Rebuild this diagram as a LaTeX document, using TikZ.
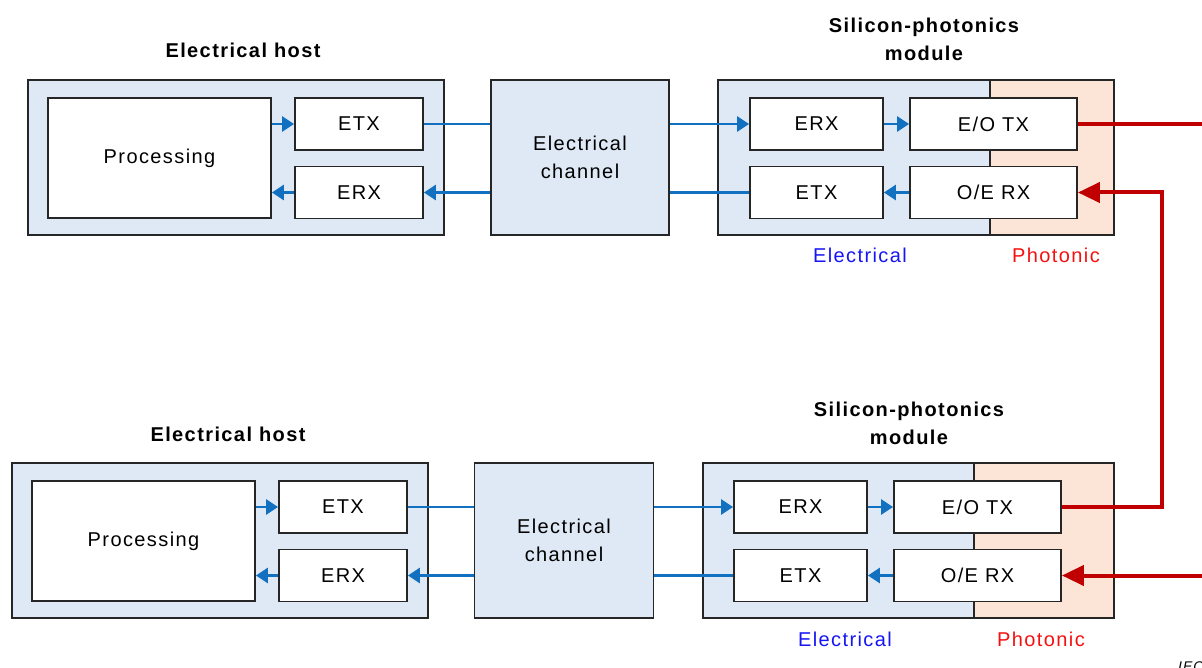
\documentclass[tikz,border=0pt]{standalone}
\usepackage{fontspec}
\setmainfont{Liberation Sans}[LetterSpace=7]
\usetikzlibrary{arrows.meta}
\definecolor{boxc}{HTML}{262626}
\definecolor{elfill}{HTML}{DEE9F5}
\definecolor{phfill}{HTML}{FCE4D6}
\definecolor{bline}{HTML}{1170C0}
\definecolor{rline}{HTML}{C00000}
\definecolor{eltext}{HTML}{1515F5}
\definecolor{phtext}{HTML}{F51010}
\tikzset{
  outerbox/.style={fill=elfill, draw=boxc, line width=1.8pt, inner sep=0pt},
  modbg/.style={fill=elfill, inner sep=0pt},
  inbox/.style={fill=white, draw=boxc, line width=1.8pt, inner sep=0pt,
    minimum height=52, font=\fontsize{20}{24}\selectfont},
  smallbox/.style={inbox, minimum width=128},
  modbox/.style={inbox, minimum width=133},
  optbox/.style={inbox, minimum width=167},
  blink/.style={draw=bline, line width=2.6pt},
  barrow/.style={blink, -{Triangle[length=12pt,width=15pt]}},
  rlink/.style={draw=rline, line width=4pt},
  rarrow/.style={rlink, -{Triangle[length=22pt,width=20pt]}},
  title/.style={font=\bfseries\fontsize{20}{28}\selectfont, align=center, anchor=base},
  eltag/.style={text=eltext, font=\fontsize{20}{24}\selectfont, anchor=base},
  phtag/.style={text=phtext, font=\fontsize{20}{24}\selectfont, anchor=base},
  chtext/.style={font=\fontsize{20}{28}\selectfont, align=center},
}
\begin{document}
\begin{tikzpicture}[x=1pt,y=-1pt]
\useasboundingbox (0,0) rectangle (1202,668);

% ---------------- top row ----------------
\node[outerbox, minimum width=416, minimum height=155] (host1) at (236,157.5) {};
\node[inbox, minimum width=223, minimum height=120] (proc1) at (159.5,158) {Processing};
\node[smallbox] (hetx1) at (359,124) {ETX};
\node[smallbox] (herx1) at (359,192.5) {ERX};
\node[outerbox, minimum width=178, minimum height=155, chtext] (ch1) at (580,157.5) {Electrical\\channel};

\node[modbg, minimum width=396, minimum height=155] (mod1) at (916,157.5) {};
\coordinate (div1) at (990,0);
\fill[phfill] (mod1.north -| div1) rectangle (mod1.south east);
\draw[boxc, line width=1.8pt] (mod1.north -| div1) -- (mod1.south -| div1);
\draw[boxc, line width=1.8pt] (mod1.north west) rectangle (mod1.south east);
\node[modbox] (merx1) at (816.5,124) {ERX};
\node[optbox] (eotx1) at (993.5,124) {E/O TX};
\node[modbox] (metx1) at (816.5,192.5) {ETX};
\node[optbox] (oerx1) at (993.5,192.5) {O/E RX};

\node[title] (th1) at (243,57.5) {Electrical host};
\node[title] (tm1) at (924,61) {Silicon-photonics\\module};
\node[eltag] (el1) at (860,263) {Electrical};
\node[phtag] (ph1) at (1056,263) {Photonic};

\draw[barrow] (proc1.east |- hetx1) -- (hetx1.west);
\draw[barrow] (herx1.west) -- (proc1.east |- herx1);
\draw[blink] (hetx1.east) -- (ch1.west |- hetx1);
\draw[barrow] (ch1.west |- herx1) -- (herx1.east);
\draw[barrow] (ch1.east |- merx1) -- (merx1.west);
\draw[blink] (metx1.west) -- (ch1.east |- metx1);
\draw[barrow] (merx1.east) -- (eotx1.west);
\draw[barrow] (oerx1.west) -- (metx1.east);

% ---------------- bottom row ----------------
\node[outerbox, minimum width=416, minimum height=155] (host2) at (220,540.5) {};
\node[inbox, minimum width=223, minimum height=120] (proc2) at (143.5,541) {Processing};
\node[smallbox] (hetx2) at (343,507) {ETX};
\node[smallbox] (herx2) at (343,575.5) {ERX};
\node[outerbox, minimum width=179, minimum height=155, chtext] (ch2) at (564,540.5) {Electrical\\channel};

\node[modbg, minimum width=411, minimum height=155] (mod2) at (908.5,540.5) {};
\coordinate (div2) at (974,0);
\fill[phfill] (mod2.north -| div2) rectangle (mod2.south east);
\draw[boxc, line width=1.8pt] (mod2.north -| div2) -- (mod2.south -| div2);
\draw[boxc, line width=1.8pt] (mod2.north west) rectangle (mod2.south east);
\node[modbox] (merx2) at (800.5,507) {ERX};
\node[optbox] (eotx2) at (977.5,507) {E/O TX};
\node[modbox] (metx2) at (800.5,575.5) {ETX};
\node[optbox] (oerx2) at (977.5,575.5) {O/E RX};

\node[title] (th2) at (228,441) {Electrical host};
\node[title] (tm2) at (909,444) {Silicon-photonics\\module};
\node[eltag] (el2) at (845,646) {Electrical};
\node[phtag] (ph2) at (1041,646) {Photonic};

\draw[barrow] (proc2.east |- hetx2) -- (hetx2.west);
\draw[barrow] (herx2.west) -- (proc2.east |- herx2);
\draw[blink] (hetx2.east) -- (ch2.west |- hetx2);
\draw[barrow] (ch2.west |- herx2) -- (herx2.east);
\draw[barrow] (ch2.east |- merx2) -- (merx2.west);
\draw[blink] (metx2.west) -- (ch2.east |- metx2);
\draw[barrow] (merx2.east) -- (eotx2.west);
\draw[barrow] (oerx2.west) -- (metx2.east);

% ---------------- optical links ----------------
\coordinate (out1) at (1204,124);
\coordinate (in2) at (1204,575.5);
\coordinate (turn) at (1162,350);
\draw[rlink] (eotx1.east) -- (out1);
\draw[rarrow] (eotx2.east) -- (eotx2.east -| turn) -- (oerx1.east -| turn) -- (oerx1.east);
\draw[rarrow] (in2) -- (oerx2.east);

\node[anchor=base west, font=\itshape\fontsize{14}{16}\selectfont, inner sep=0pt] (iec) at (1178,671) {IEC};
\end{tikzpicture}
\end{document}
